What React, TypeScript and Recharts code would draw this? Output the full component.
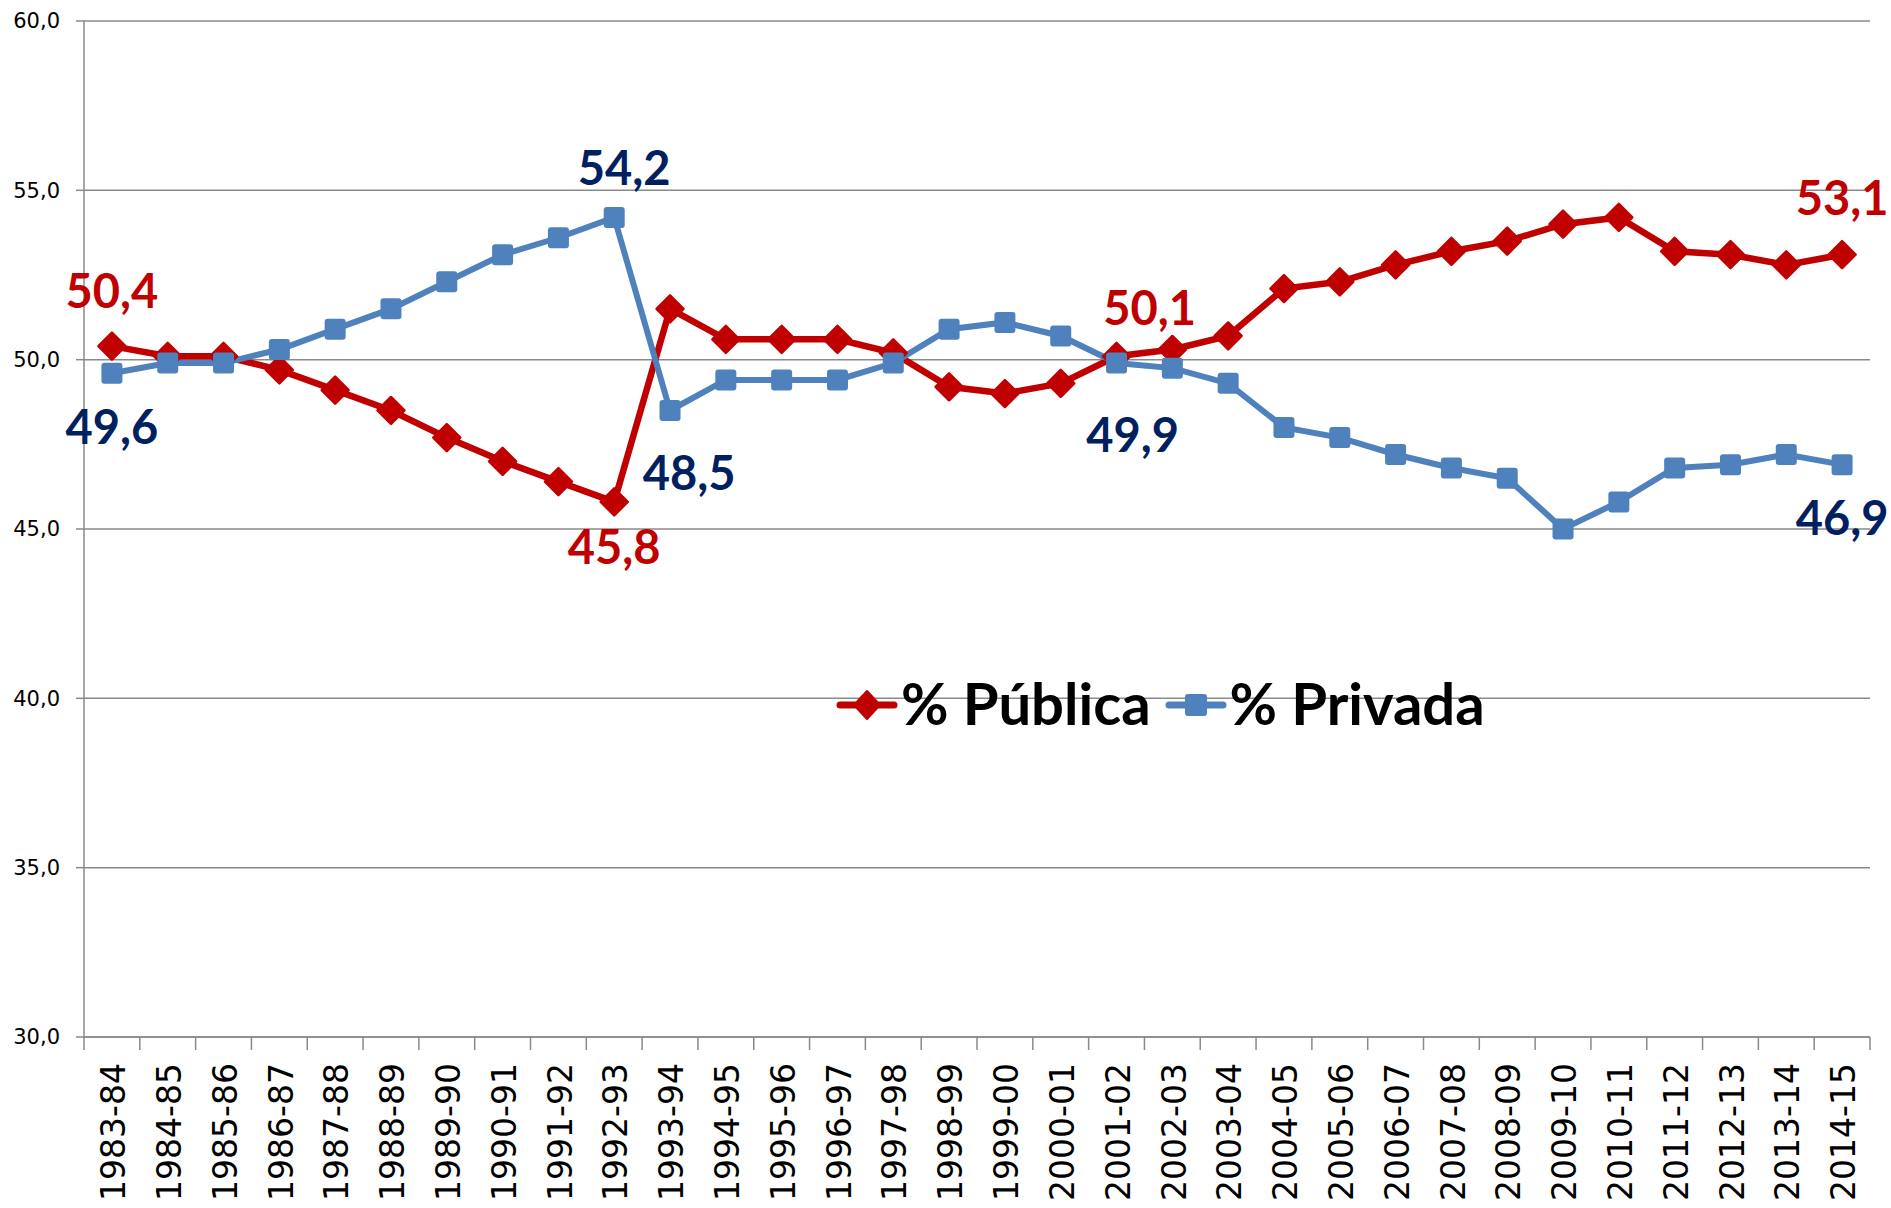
import { LineChart, Line, XAxis, YAxis, CartesianGrid, Legend, LabelList } from "recharts";

const YEARS = [
  "1983-84", "1984-85", "1985-86", "1986-87", "1987-88", "1988-89", "1989-90", "1990-91",
  "1991-92", "1992-93", "1993-94", "1994-95", "1995-96", "1996-97", "1997-98", "1998-99",
  "1999-00", "2000-01", "2001-02", "2002-03", "2003-04", "2004-05", "2005-06", "2006-07",
  "2007-08", "2008-09", "2009-10", "2010-11", "2011-12", "2012-13", "2013-14", "2014-15",
];

const PUBLICA = [
  50.4, 50.1, 50.1, 49.7, 49.1, 48.5, 47.7, 47.0, 46.4, 45.8, 51.5, 50.6, 50.6, 50.6, 50.2, 49.2,
  49.0, 49.3, 50.1, 50.3, 50.7, 52.1, 52.3, 52.8, 53.2, 53.5, 54.0, 54.2, 53.2, 53.1, 52.8, 53.1,
];

const PRIVADA = [
  49.6, 49.9, 49.9, 50.3, 50.9, 51.5, 52.3, 53.1, 53.6, 54.2, 48.5, 49.4, 49.4, 49.4, 49.9, 50.9,
  51.1, 50.7, 49.9, 49.75, 49.3, 48.0, 47.7, 47.2, 46.8, 46.5, 45.0, 45.8, 46.8, 46.9, 47.2, 46.9,
];

const Y_TICKS = [30, 35, 40, 45, 50, 55, 60];

const RED = "#C00000";
const BLUE = "#4F81BD";
const NAVY = "#002060";
const GRID = "#8a8a8a";

const data = YEARS.map((year, idx) => ({
  idx,
  year,
  publica: PUBLICA[idx],
  privada: PRIVADA[idx],
}));

// half-integer ticks carry the tick marks (between categories), integer ticks carry the labels
const X_TICKS: number[] = [];
for (let i = 0; i <= YEARS.length; i++) {
  X_TICKS.push(i - 0.5);
  if (i < YEARS.length) X_TICKS.push(i);
}

// which points get a value label, and where it sits relative to the point
const PUB_LABELS: Record<number, [number, number]> = {
  0: [0, -54],
  9: [0, 46],
  18: [33, -47],
  31: [0, -56],
};
const PRI_LABELS: Record<number, [number, number]> = {
  0: [0, 55],
  9: [10, -48],
  10: [19, 64],
  18: [16, 73],
  31: [0, 54],
};

const fmt = (v: number) => v.toFixed(1).replace(".", ",");

const XTick = (props: any) => {
  const { x, y, payload } = props;
  const v = payload.value;
  if (!Number.isInteger(v)) {
    return <line x1={x} x2={x} y1={y} y2={y + 13} stroke={GRID} strokeWidth={1.5} />;
  }
  return (
    <text
      transform={`translate(${x},${y + 26}) rotate(-90)`}
      textAnchor="end"
      dy="0.4em"
      fontFamily="DejaVu Sans"
      fontSize={33}
      fill="#000"
    >
      {YEARS[v]}
    </text>
  );
};

const Diamond = (props: any) => {
  const { cx, cy } = props;
  if (cx == null || cy == null) return null;
  const r = 13.5;
  return (
    <polygon
      points={`${cx},${cy - r} ${cx + r},${cy} ${cx},${cy + r} ${cx - r},${cy}`}
      fill={RED}
      stroke={RED}
      strokeWidth={2.5}
      strokeLinejoin="round"
    />
  );
};

const Square = (props: any) => {
  const { cx, cy } = props;
  if (cx == null || cy == null) return null;
  const s = 21;
  return <rect x={cx - s / 2} y={cy - s / 2} width={s} height={s} rx={3} fill={BLUE} />;
};

const makeLabel = (offsets: Record<number, [number, number]>, color: string) => (props: any) => {
  const { index, value } = props;
  const off = offsets[index];
  if (!off) return null;
  const x = props.x ?? props.viewBox?.x;
  const y = props.y ?? props.viewBox?.y;
  if (x == null || y == null) return null;
  return (
    <text
      key={`lbl-${color}-${index}`}
      x={x + off[0]}
      y={y + off[1] + 16}
      textAnchor="middle"
      fontFamily="Lato"
      fontWeight={700}
      fontSize={47}
      fill={color}
    >
      {fmt(Number(value))}
    </text>
  );
};

const LegendContent = () => (
  <div
    style={{
      display: "flex",
      alignItems: "center",
      height: 60,
      fontFamily: "Lato",
      fontWeight: 700,
      fontSize: 58,
      color: "#000",
      whiteSpace: "nowrap",
    }}
  >
    <svg width={62} height={60}>
      <line x1={4} x2={58} y1={33} y2={33} stroke={RED} strokeWidth={7} strokeLinecap="round" />
      <polygon points="31,19 44,33 31,47 18,33" fill={RED} stroke={RED} strokeWidth={2} strokeLinejoin="round" />
    </svg>
    <span style={{ marginLeft: 3 }}>% Pública</span>
    <svg width={62} height={60} style={{ marginLeft: 14 }}>
      <line x1={4} x2={58} y1={33} y2={33} stroke={BLUE} strokeWidth={7} strokeLinecap="round" />
      <rect x={20} y={22} width={22} height={22} rx={3} fill={BLUE} />
    </svg>
    <span style={{ marginLeft: 3 }}>% Privada</span>
  </div>
);

export default function App() {
  return (
    <div style={{ position: "absolute", left: 0, top: 0, width: 1891, height: 1208, background: "#fff" }}>
      <LineChart width={1891} height={1208} data={data} margin={{ top: 21, right: 21, bottom: 0, left: 0 }}>
        <CartesianGrid vertical={false} stroke={GRID} strokeWidth={1.5} />
        <XAxis
          dataKey="idx"
          type="number"
          domain={[-0.5, YEARS.length - 0.5]}
          ticks={X_TICKS}
          interval={0}
          height={171}
          tickSize={0}
          tickMargin={0}
          tickLine={false}
          axisLine={{ stroke: GRID, strokeWidth: 1.5 }}
          tick={<XTick />}
        />
        <YAxis
          domain={[30, 60]}
          ticks={Y_TICKS}
          interval={0}
          width={84}
          tickSize={8}
          tickMargin={16}
          axisLine={{ stroke: GRID, strokeWidth: 1.5 }}
          tickLine={{ stroke: GRID, strokeWidth: 1.5 }}
          tick={{ fontFamily: "DejaVu Sans", fontSize: 21, fill: "#000" }}
          tickFormatter={fmt}
        />
        <Legend
          verticalAlign="middle"
          align="center"
          layout="horizontal"
          wrapperStyle={{ left: 836, top: 672, width: 760, height: 60 }}
          content={<LegendContent />}
        />
        <Line
          dataKey="publica"
          name="% Pública"
          stroke={RED}
          strokeWidth={6.5}
          dot={(p: any) => <Diamond key={`d-${p.index}`} {...p} />}
          activeDot={false}
          isAnimationActive={false}
        >
          <LabelList dataKey="publica" content={makeLabel(PUB_LABELS, RED)} />
        </Line>
        <Line
          dataKey="privada"
          name="% Privada"
          stroke={BLUE}
          strokeWidth={6}
          dot={(p: any) => <Square key={`s-${p.index}`} {...p} />}
          activeDot={false}
          isAnimationActive={false}
        >
          <LabelList dataKey="privada" content={makeLabel(PRI_LABELS, NAVY)} />
        </Line>
      </LineChart>
    </div>
  );
}
